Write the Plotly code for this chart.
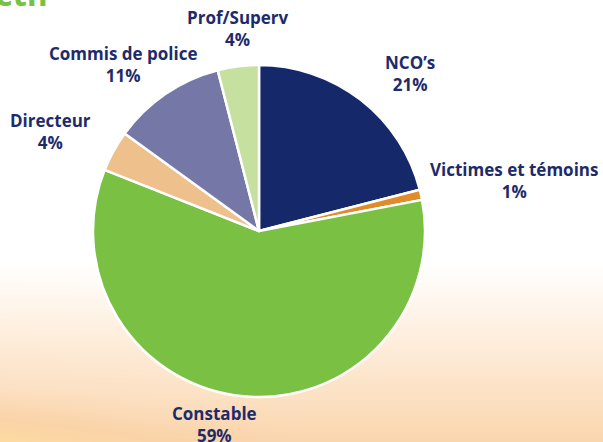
import plotly.graph_objects as go

# ---- data ----
labels = ["NCO’s", "Victimes et témoins", "Constable", "Directeur", "Commis de police", "Prof/Superv"]
values = [21, 1, 59, 4, 11, 4]
colors = ["#15286A", "#E08C2B", "#7AC143", "#EEC08C", "#7578A6", "#C6E0A0"]
title_text = "Effectif"

# ---- layout constants ----
W, H = 603, 442
# label block centres in pixels (x, y from top)
label_pos = [(410, 74), (514, 180), (214, 424), (50, 131), (123, 64), (238, 29)]

fig = go.Figure()

# background gradient (white top -> peach bottom, slight yellow bottom-left)
bg_x = [-10, 150, 300, 450, 615]
bg_y = [-10, 262, 330, 390, 452]
bg_z = [
    [0, 0, 0, 0, 0],
    [0, 0, 0, 0, 0],
    [0.36, 0.34, 0.33, 0.33, 0.33],
    [0.64, 0.6, 0.6, 0.6, 0.6],
    [1.0, 0.86, 0.8, 0.8, 0.8],
]
fig.add_trace(go.Heatmap(
    x=bg_x, y=bg_y, z=bg_z, zsmooth="best", showscale=False, hoverinfo="skip",
    zmin=0, zmax=1,
    colorscale=[[0, "#FFFFFF"], [0.35, "#FEEFDF"], [0.62, "#FCE1C4"],
                [0.8, "#FAD3A8"], [1.0, "#FFDF9C"]],
))

cx, cy, r = 259, 231, 166
fig.add_trace(go.Pie(
    labels=labels, values=values, sort=False, direction="clockwise", rotation=0,
    marker=dict(colors=colors, line=dict(color="white", width=2.5)),
    textinfo="none", hoverinfo="label+percent", showlegend=False,
    domain=dict(x=[(cx - r) / W, (cx + r) / W], y=[(H - cy - r) / H, (H - cy + r) / H]),
))

total = sum(values)
annotations = []
for lab, v, (px, py) in zip(labels, values, label_pos):
    annotations.append(dict(
        x=px / W, y=1 - py / H, xref="paper", yref="paper",
        xanchor="center", yanchor="middle", showarrow=False,
        text=f"<b>{lab}<br>{round(100 * v / total)}%</b>",
        font=dict(family="Open Sans", size=17, color="#1E2B6B"),
    ))
annotations.append(dict(
    x=54 / W, y=1, xref="paper", yref="paper", xanchor="right", yanchor="bottom",
    yshift=-18, showarrow=False, text=f"<b>{title_text}</b>",
    font=dict(family="Open Sans", size=33, color="#7AC143"),
))

fig.update_layout(
    width=W, height=H, margin=dict(l=0, r=0, t=0, b=0),
    paper_bgcolor="white", plot_bgcolor="white",
    xaxis=dict(range=[0, W], visible=False, domain=[0, 1], fixedrange=True),
    yaxis=dict(range=[H, 0], visible=False, domain=[0, 1], fixedrange=True),
    annotations=annotations,
)

fig.write_html(
    "out.html",
    config={"displayModeBar": False},
    post_script="document.body.style.margin='0';document.body.style.overflow='hidden';",
)
